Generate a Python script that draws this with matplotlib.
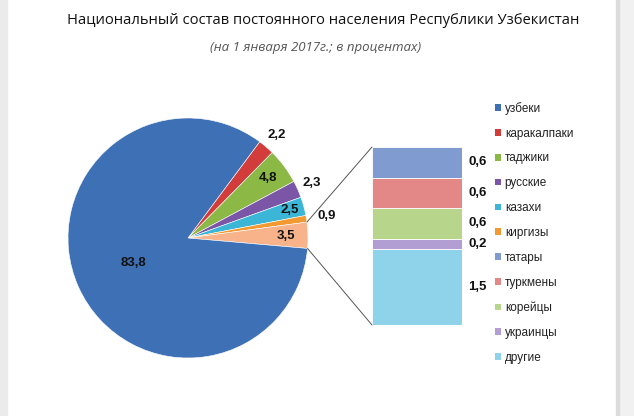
import numpy as np
import matplotlib
matplotlib.use('Agg')
import matplotlib.pyplot as plt
from matplotlib.patches import Patch, Rectangle, ConnectionPatch

# main pie (legend order)
pie_labels = ['узбеки', 'каракалпаки', 'таджики', 'русские', 'казахи', 'киргизы']
pie_values = [83.8, 2.2, 4.8, 2.3, 2.5, 0.9]
other_value = 3.5
pie_colors = ['#3d70b5', '#d23d3c', '#8cb845', '#7b55a6', '#3bb6d6', '#f19a31']
other_color = '#f8b38a'

# secondary bar (breakdown of "other" 3.5)
bar_labels = ['татары', 'туркмены', 'корейцы', 'украинцы', 'другие']
bar_values = [0.6, 0.6, 0.6, 0.2, 1.5]
bar_colors = ['#7f9bd0', '#e48887', '#b8d68b', '#b29ed2', '#8ed3ea']

title = 'Национальный состав постоянного населения Республики Узбекистан'
subtitle = '(на 1 января 2017г.; в процентах)'

plt.rcParams['font.family'] = ['Liberation Sans', 'DejaVu Sans']

W, H = 634, 416
fig = plt.figure(figsize=(W / 100, H / 100), dpi=100)

# side strips of the page
fig.patches.append(Rectangle((0, 0), 7 / W, 1, transform=fig.transFigure,
                             color='#ebebeb', zorder=0))
fig.patches.append(Rectangle((618 / W, 0), 16 / W, 1, transform=fig.transFigure,
                             color='#f1f1f1', zorder=0))
fig.patches.append(Rectangle((616 / W, 0), 3 / W, 1, transform=fig.transFigure,
                             color='#dcdcdc', zorder=0))

fig.text(323 / W, 1 - 20 / H, title, ha='center', va='center', fontsize=10.6,
         family=['Open Sans', 'DejaVu Sans'], color='#111111')
fig.text(316 / W, 1 - 47 / H, subtitle, ha='center', va='center', fontsize=9.5,
         family=['Open Sans', 'DejaVu Sans'], style='italic', color='#555555')

# ---- pie
cx, cy, r = 188, 238, 120
ax = fig.add_axes([(cx - r) / W, 1 - (cy + r) / H, 2 * r / W, 2 * r / H])
order = [1, 2, 3, 4, 5]
vals = [pie_values[i] for i in order] + [other_value, pie_values[0]]
cols = [pie_colors[i] for i in order] + [other_color, pie_colors[0]]
texts = [f'{v:.1f}'.replace('.', ',') for v in vals]
label_r = [1.13, 0.83, 1.13, 0.88, 1.17, 0.82, 0.5]

start = -5 + sum(vals[:-1]) / 100 * 360
wedges, _ = ax.pie(vals, colors=cols, startangle=start, counterclock=False,
                   radius=1, wedgeprops=dict(edgecolor='#ffffff', linewidth=0.4))
for w, t, lr in zip(wedges, texts, label_r):
    ang = np.deg2rad((w.theta1 + w.theta2) / 2)
    ax.text(lr * np.cos(ang), lr * np.sin(ang), t, ha='center', va='center',
            fontsize=9.5, fontweight='bold', color='#111111')
ax.set_xlim(-1, 1)
ax.set_ylim(-1, 1)
ax.set_aspect('equal')
ax.axis('off')

# ---- stacked bar
bx0, bx1, by0, by1 = 372, 462, 147, 325
bax = fig.add_axes([bx0 / W, 1 - by1 / H, (bx1 - bx0) / W, (by1 - by0) / H])
bottom = 0
for lab, v, c in reversed(list(zip(bar_labels, bar_values, bar_colors))):
    bax.bar(0, v, bottom=bottom, width=1, color=c, edgecolor='#ffffff', linewidth=0.6)
    bax.annotate(f'{v:.1f}'.replace('.', ','), (0.5, bottom + v / 2),
                 xytext=(4.5, 0), textcoords='offset points', ha='left',
                 va='center', fontsize=9.5, fontweight='bold', color='#111111')
    bottom += v
bax.set_xlim(-0.5, 0.5)
bax.set_ylim(0, sum(bar_values))
bax.axis('off')

# connectors from the "other" wedge to the bar
ow = wedges[5]
for th, yb in [(ow.theta1, 0), (ow.theta2, sum(bar_values))]:
    a = np.deg2rad(th)
    con = ConnectionPatch(xyA=(np.cos(a), np.sin(a)), coordsA=ax.transData,
                          xyB=(-0.5, yb), coordsB=bax.transData,
                          color='#555555', linewidth=0.7)
    fig.add_artist(con)

# ---- legend
handles = [Patch(facecolor=c, edgecolor='none') for c in pie_colors + bar_colors]
fig.legend(handles, pie_labels + bar_labels, loc='upper left',
           bbox_to_anchor=(490 / W, 1 - 97 / H), frameon=False, fontsize=8.5,
           handlelength=0.5, handleheight=0.5, handletextpad=0.35,
           labelspacing=1.09, labelcolor='#222222', borderaxespad=0)

fig.savefig('out.png', dpi=100, facecolor='white')
